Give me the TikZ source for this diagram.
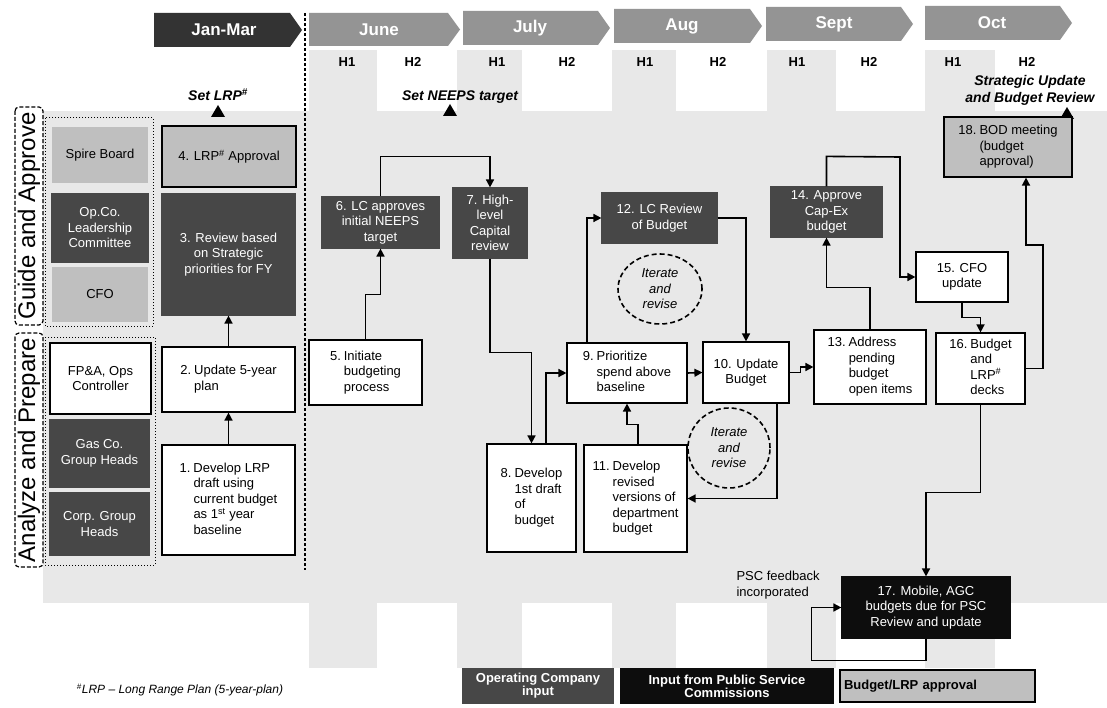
\documentclass[tikz,border=0pt]{standalone}
\usepackage{fontspec}
\setmainfont{Liberation Sans}
\usetikzlibrary{arrows.meta,shapes.geometric}
\definecolor{opco}{gray}{0.28}
\definecolor{pscc}{gray}{0.05}
\definecolor{appr}{gray}{0.75}
\definecolor{monthc}{gray}{0.58}
\definecolor{janc}{gray}{0.2}
\definecolor{lanec}{gray}{0.91}
\newcommand\bx{\fontsize{13}{15.5}\selectfont}
\newcommand\hg[1]{\begin{tabular}{@{}l@{\hspace{3pt}}l@{}}#1\end{tabular}}
\newcommand\chev[6]{% fill, x1, x2, y1, y2, text
  \fill[#1] (#2,#4) -- ({#3-12},#4) -- (#3,{(#4+#5)/2}) -- ({#3-12},#5) -- (#2,#5) -- cycle;
}
\begin{document}
\begin{tikzpicture}[x=1pt,y=-1pt,
  box/.style={rectangle, draw=black, line width=1.2pt, fill=white, font=\bx, align=center, inner sep=2pt, text=black},
  opbox/.style={box, fill=opco, draw=opco, text=white},
  pscbox/.style={box, fill=pscc, draw=pscc, text=white},
  apbox/.style={box, fill=appr},
  apnb/.style={box, fill=appr, draw=none},
  wire/.style={line width=1.6pt, -{Triangle[length=8pt,width=8pt]}},
  hdr/.style={font=\fontsize{17}{17}\selectfont\bfseries, text=white},
  hh/.style={font=\fontsize{13}{13}\selectfont\bfseries},
  note/.style={font=\fontsize{14}{17}\selectfont\bfseries\itshape, align=center},
  iter/.style={ellipse, draw=black, dashed, dash pattern=on 5pt off 3pt, line width=1.6pt, font=\bx\itshape, align=center, inner sep=0pt},
  lanelbl/.style={rectangle, draw=black, dashed, dash pattern=on 4pt off 2pt, line width=1.2pt, rounded corners=4pt, rotate=90, font=\fontsize{24}{24}\selectfont, inner sep=0pt},
  lgfont/.style={font=\fontsize{13}{13}\selectfont\bfseries}
]
\useasboundingbox (0,0) rectangle (1107,708);
\fill[white] (0,0) rectangle (1107,708);

% background lanes and H1 columns
\fill[lanec] (43,111) rectangle (1107,603);
\foreach \a/\b in {309/377, 457/522, 612/676, 767/836, 925/995}
  \fill[lanec] (\a,50) rectangle (\b,668);

% header chevrons
\chev{janc}{154}{302}{13}{47}{}
\chev{monthc}{309}{460}{13}{46}{}
\chev{monthc}{463}{610}{11}{45}{}
\chev{monthc}{614}{762}{9}{43}{}
\chev{monthc}{766}{913}{7}{41}{}
\chev{monthc}{925}{1072}{6}{40}{}
\node[hdr] (hjan) at (224,30) {Jan-Mar};
\node[hdr] (hjun) at (379,29.5) {June};
\node[hdr] (hjul) at (530,28) {July};
\node[hdr] (haug) at (682,26) {Aug};
\node[hdr] (hsep) at (834,24) {Sept};
\node[hdr] (hoct) at (992,23) {Oct};

% H1 / H2
\node[hh] (j1) at (347,62) {H1};  \node[hh] (j2) at (413,62) {H2};
\node[hh] (l1) at (497,62) {H1};  \node[hh] (l2) at (567,62) {H2};
\node[hh] (a1) at (645,62) {H1};  \node[hh] (a2) at (718,62) {H2};
\node[hh] (s1) at (797,62) {H1};  \node[hh] (s2) at (869,62) {H2};
\node[hh] (o1) at (953,62) {H1};  \node[hh] (o2) at (1027,62) {H2};

% vertical dashed separator
\draw[line width=1.5pt, dashed, dash pattern=on 3pt off 2pt] (305,13) -- (305,570);

% milestone notes and markers
\node[note] (setlrp) at (218,95) {Set LRP\textsuperscript{\#}};
\node[note] (setneeps) at (460,97) {Set NEEPS target};
\node[note] (strat) at (1030,90) {Strategic Update\\and Budget Review};
\fill (211,117) -- (225,117) -- (218,105) -- cycle;
\fill (443,116) -- (457,116) -- (450,104) -- cycle;
\fill (1060,119) -- (1074,119) -- (1067,107) -- cycle;

% lane labels
\node[lanelbl, minimum width=218, minimum height=28] (lgA) at (29,216) {Guide and Approve};
\node[lanelbl, minimum width=234, minimum height=28] (lgB) at (29,450) {Analyze and Prepare};
\draw[dotted, line width=1pt] (45,118) rectangle (153,326);
\draw[dotted, line width=1pt] (45,337) rectangle (155,565);

% left column
\node[apnb, minimum width=96, minimum height=56] (spire) at (100,155) {Spire Board};
\node[opbox, minimum width=96, minimum height=68] (opc) at (100,228) {Op.Co.\\Leadership\\Committee};
\node[apnb, minimum width=96, minimum height=55] (cfo) at (100,294.5) {CFO};
\node[box, minimum width=101, minimum height=71] (fpa) at (100.5,378.5) {FP\&A, Ops\\Controller};
\node[opbox, minimum width=99, minimum height=67] (gas) at (99.5,453.5) {Gas Co.\\Group Heads};
\node[opbox, minimum width=99, minimum height=62] (corp) at (99.5,524) {Corp. Group\\Heads};

% Jan-Mar column
\node[apbox, minimum width=134, minimum height=61] (b4) at (229,156.5) {4. LRP\textsuperscript{\#} Approval};
\node[opbox, minimum width=133, minimum height=121] (b3) at (228.5,254.5) {3. Review based\\on Strategic\\priorities for FY};
\node[box, minimum width=133, minimum height=65] (b2) at (228.5,379.5) {\hg{2. & Update 5-year\\ & plan}};
\node[box, minimum width=133, minimum height=110] (b1) at (228.5,500) {\hg{1. & Develop LRP\\ & draft using\\ & current budget\\ & as 1\textsuperscript{st} year\\ & baseline}};

% process boxes
\node[box, minimum width=113, minimum height=65] (b5) at (365.5,372.5) {\hg{5. & Initiate\\ & budgeting\\ & process}};
\node[opbox, minimum width=117, minimum height=51] (b6) at (380.5,222.5) {6. LC approves\\initial NEEPS\\target};
\node[opbox, minimum width=74, minimum height=70] (b7) at (490,223) {7. High-\\level\\Capital\\review};
\node[box, minimum width=89, minimum height=108] (b8) at (531.5,498) {\hg{8. & Develop\\ & 1st draft\\ & of\\ & budget}};
\node[box, minimum width=120, minimum height=60] (b9) at (627,373) {\hg{9. & Prioritize\\ & spend above\\ & baseline}};
\node[box, minimum width=103, minimum height=107] (b11) at (635.5,498.5) {\hg{11. & Develop\\ & revised\\ & versions of\\ & department\\ & budget}};
\node[opbox, minimum width=115, minimum height=50] (b12) at (659.5,218) {12. LC Review\\of Budget};
\node[box, minimum width=86, minimum height=61] (b10) at (746,372.5) {10. Update\\Budget};
\node[box, minimum width=112, minimum height=74] (b13) at (870,367) {\hg{13. & Address\\ & pending\\ & budget\\ & open items}};
\node[opbox, minimum width=111, minimum height=50] (b14) at (826.5,212) {14. Approve\\Cap-Ex\\budget};
\node[box, minimum width=92, minimum height=50] (b15) at (962,277) {15. CFO\\update};
\node[box, minimum width=89, minimum height=71] (b16) at (980.5,368.5) {\hg{16. & Budget\\ & and\\ & LRP\textsuperscript{\#}\\ & decks}};
\node[apbox, minimum width=128, minimum height=60] (b18) at (1008,147) {\hg{18. & BOD meeting\\ & (budget\\ & approval)}};
\node[pscbox, minimum width=168, minimum height=61] (b17) at (926,607.5) {17. Mobile, AGC\\budgets due for PSC\\Review and update};

% iterate and revise
\node[iter, minimum width=84, minimum height=70] (it1) at (660,289) {Iterate\\and\\revise};
\node[iter, minimum width=82, minimum height=80] (it2) at (729,448) {Iterate\\and\\revise};

\node[font=\bx, align=left, anchor=west] (psc) at (733,585) {PSC feedback\\incorporated};

% connectors
\draw[wire] (b1.north) -- (b2.south);
\draw[wire] (b2.north) -- (b3.south);
\draw[wire] (b5.north) -- ++(0,-45) -| (b6.south);
\draw[wire] (b6.north) -- ++(0,-40) -| (b7.north);
\draw[wire] (b7.south) -- ++(0,94) -| (b8.north);
\draw[wire] ([xshift=14.5]b8.north) |- (b9.west);
\draw[wire] ([xshift=-40]b9.north) |- (b12.west);
\draw[wire] (b12.east) -| (b10.north);
\draw[wire] (b9.east) -- (b10.west);
\draw[wire] ([xshift=2.5]b11.north) -- ++(0,-20) -| (b9.south);
\draw[wire] ([xshift=31]b10.south) |- (b11.east);
\draw[wire] (b10.east) -- ++(11,0) |- (b13.west);
\draw[wire] (b13.north) -- ++(0,-42) -| (b14.south);
\draw[wire] (b14.north) -- ++(0,-30) -- (900,157) |- (b15.west);
\draw[wire] (b15.south) -- ++(0,15) -| (b16.north);
\draw[wire] (b16.east) -| (1043,245) -| ([xshift=18]b18.south);
\draw[wire] (b16.south) -- ++(0,88) -| (b17.north);
\draw[wire] (b17.south) -- ++(0,22) -| ([xshift=-30]b17.west) -- (b17.west);

% legend
\node[opbox, lgfont, minimum width=150, minimum height=34, inner sep=1pt] (lg1) at (538,686) {Operating Company\\input};
\node[pscbox, lgfont, minimum width=212, minimum height=34, inner sep=1pt] (lg2) at (727,686) {Input from Public Service\\Commissions};
\node[apbox, lgfont, minimum width=195, minimum height=32, text width=187, align=left] (lg3) at (937.5,686) {Budget/LRP approval};

\node[font=\fontsize{12}{12}\selectfont\itshape] (foot) at (180,690) {\textsuperscript{\#}LRP -- Long Range Plan (5-year-plan)};
\end{tikzpicture}
\end{document}
